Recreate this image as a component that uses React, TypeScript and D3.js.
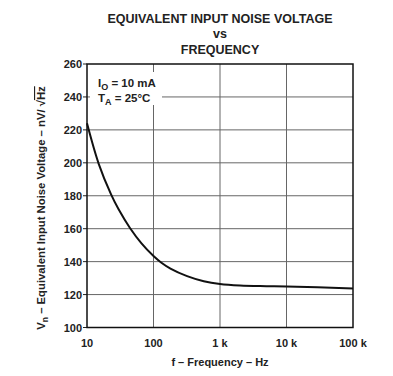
import React from "react";
import * as d3 from "d3";

const freqs = [10, 15, 23, 30, 44, 66, 100, 130, 180, 320, 570, 1000, 2000, 5000, 10000, 100000];
const noise = [224, 199.4, 180.8, 171.6, 160.6, 151.1, 143.4, 139.5, 135.8, 131.2, 128.1, 126.4, 125.5, 125.1, 124.9, 123.7];
const xTicks = [10, 100, 1000, 10000, 100000];
const xTickLabels = ["10", "100", "1 k", "10 k", "100 k"];
const yTicks = [100, 120, 140, 160, 180, 200, 220, 240, 260];

export default function App() {
  const W = 393, H = 376;
  const L = 87, R = 353, T = 64, B = 327.5;
  const x = d3.scaleLog().domain([10, 100000]).range([L, R]);
  const y = d3.scaleLinear().domain([100, 260]).range([B, T]);
  const line = d3.line<number>().x((_, i) => x(freqs[i])).y((d) => y(d)).curve(d3.curveCatmullRom.alpha(0.5));
  const font = "'Liberation Sans', Arial, Helvetica, sans-serif";
  return (
    <svg width={W} height={H} style={{ position: "absolute", left: 0, top: 0 }} fontFamily={font} fontWeight="bold">
      <rect width={W} height={H} fill="#fff" />
      <text x={220} y={23} textAnchor="middle" fontSize={12.5} fill="#222">EQUIVALENT INPUT NOISE VOLTAGE</text>
      <text x={220} y={38} textAnchor="middle" fontSize={12.5} fill="#222">vs</text>
      <text x={220} y={54} textAnchor="middle" fontSize={12.5} fill="#222">FREQUENCY</text>
      {yTicks.slice(1, -1).map((t) => (
        <line key={"gy" + t} x1={L} x2={R} y1={y(t)} y2={y(t)} stroke="#666" strokeWidth={1} />
      ))}
      {xTicks.slice(1, -1).map((t) => (
        <line key={"gx" + t} x1={x(t)} x2={x(t)} y1={T} y2={B} stroke="#666" strokeWidth={1} />
      ))}
      {yTicks.map((t) => (
        <line key={"ty" + t} x1={L - 4} x2={L} y1={y(t)} y2={y(t)} stroke="#222" strokeWidth={1} />
      ))}
      <rect x={L + 3} y={72} width={72} height={33} fill="#fff" />
      <text x={98} y={87} fontSize={11.5} fill="#222">
        I<tspan fontSize={9} dy={3}>O</tspan><tspan dy={-3}> = 10 mA</tspan>
      </text>
      <text x={98} y={102} fontSize={11.5} fill="#222">
        T<tspan fontSize={9} dy={3}>A</tspan><tspan dy={-3}> = 25°C</tspan>
      </text>
      <path d={line(noise) || ""} fill="none" stroke="#111" strokeWidth={2} />
      <rect x={L} y={T} width={R - L} height={B - T} fill="none" stroke="#111" strokeWidth={1.5} />
      {yTicks.map((t) => (
        <text key={"ly" + t} x={82} y={y(t) + 4} textAnchor="end" fontSize={11} fill="#222">{t}</text>
      ))}
      {xTicks.map((t, i) => (
        <text key={"lx" + t} x={x(t)} y={347} textAnchor="middle" fontSize={11} fill="#222">{xTickLabels[i]}</text>
      ))}
      <text x={220} y={366} textAnchor="middle" fontSize={11} fill="#222">f – Frequency – Hz</text>
      <g transform={`translate(45, 208) rotate(-90)`}>
        <text x={0} y={0} textAnchor="middle" fontSize={11.3} fill="#222">
          V<tspan fontSize={8.5} dy={3}>n</tspan><tspan dy={-3}> – Equivalent Input Noise Voltage – nV/ √</tspan><tspan style={{ textDecoration: "overline" }}>Hz</tspan>
        </text>
      </g>
    </svg>
  );
}
